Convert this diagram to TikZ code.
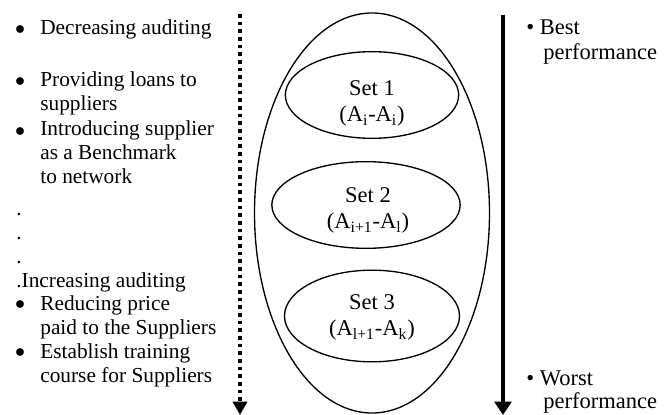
\documentclass[tikz,border=0pt]{standalone}
\usepackage{fontspec}
\setmainfont{Liberation Serif}
\usetikzlibrary{shapes.geometric, arrows.meta, positioning}

\begin{document}
\begin{tikzpicture}[
    x=0.6pt, y=-0.6pt,
    item/.style={anchor=base west, inner sep=0pt, align=left, font=\fontsize{12.8}{14.4}\selectfont},
    bul/.style={anchor=base, inner sep=0pt, font=\fontsize{12.8}{14.4}\selectfont},
    perf/.style={anchor=base west, inner sep=0pt, font=\fontsize{13.5}{15}\selectfont},
    setel/.style={ellipse, draw=black, line width=0.8pt, inner sep=0pt},
    setlab/.style={anchor=base, inner sep=0pt, align=center, font=\fontsize{13.5}{16}\selectfont},
    dotarr/.style={line width=2.2pt, dash pattern=on 2.2pt off 2.4pt, -{Triangle[length=8pt, width=8.4pt]}},
    solarr/.style={line width=2.7pt, -{Triangle[length=8pt, width=10pt]}}
]
\useasboundingbox (0,0) rectangle (667,415);

% left column: actions (placed at the baseline of the last line)
\node[item] (dec)   at (40,35)  {Decreasing auditing};
\node[item] (loans) at (40,111) {Providing loans to\\suppliers};
\node[item] (intro) at (40,184) {Introducing supplier\\as a Benchmark\\to network};
\node[item] (inc)   at (16,287) {.\\.\\.\\.Increasing auditing};
\node[item] (price) at (40,334) {Reducing price\\paid to the Suppliers};
\node[item] (train) at (40,382) {Establish training\\course for Suppliers};

\node[bul] (b1) at (20,35)  {$\bullet$};
\node[bul] (b2) at (20,87)  {$\bullet$};
\node[bul] (b3) at (20,137) {$\bullet$};
\node[bul] (b4) at (20,310) {$\bullet$};
\node[bul] (b5) at (20,358) {$\bullet$};

% sets
\node[setel, minimum width=141pt, minimum height=240pt] (all) at (372,213) {};
\node[setel, minimum width=104pt, minimum height=52pt] (set1) at (372,95)  {};
\node[setel, minimum width=113pt, minimum height=52pt] (set2) at (366,205) {};
\node[setel, minimum width=105pt, minimum height=55pt] (set3) at (372,316) {};

\node[setlab] (lab1) at (372,122) {Set 1\\(A\textsubscript{i}-A\textsubscript{i})};
\node[setlab] (lab2) at (368,229) {Set 2\\(A\textsubscript{i+1}-A\textsubscript{l})};
\node[setlab] (lab3) at (372,336) {Set 3\\(A\textsubscript{l+1}-A\textsubscript{k})};

% arrows
\coordinate (dtop) at (240,14);
\coordinate (dbot) at (240,415);
\coordinate (stop) at (503,15);
\coordinate (sbot) at (503,415);
\draw[dotarr] (dtop) -- (dbot);
\draw[solarr] (stop) -- (sbot);

% right column: performance
\node[perf] (best)  at (526,35)  {\textbullet\ Best};
\node[perf] (perf1) at (543,60)  {performance};
\node[perf] (worst) at (526,385) {\textbullet\ Worst};
\node[perf] (perf2) at (543,408) {performance};
\end{tikzpicture}
\end{document}
